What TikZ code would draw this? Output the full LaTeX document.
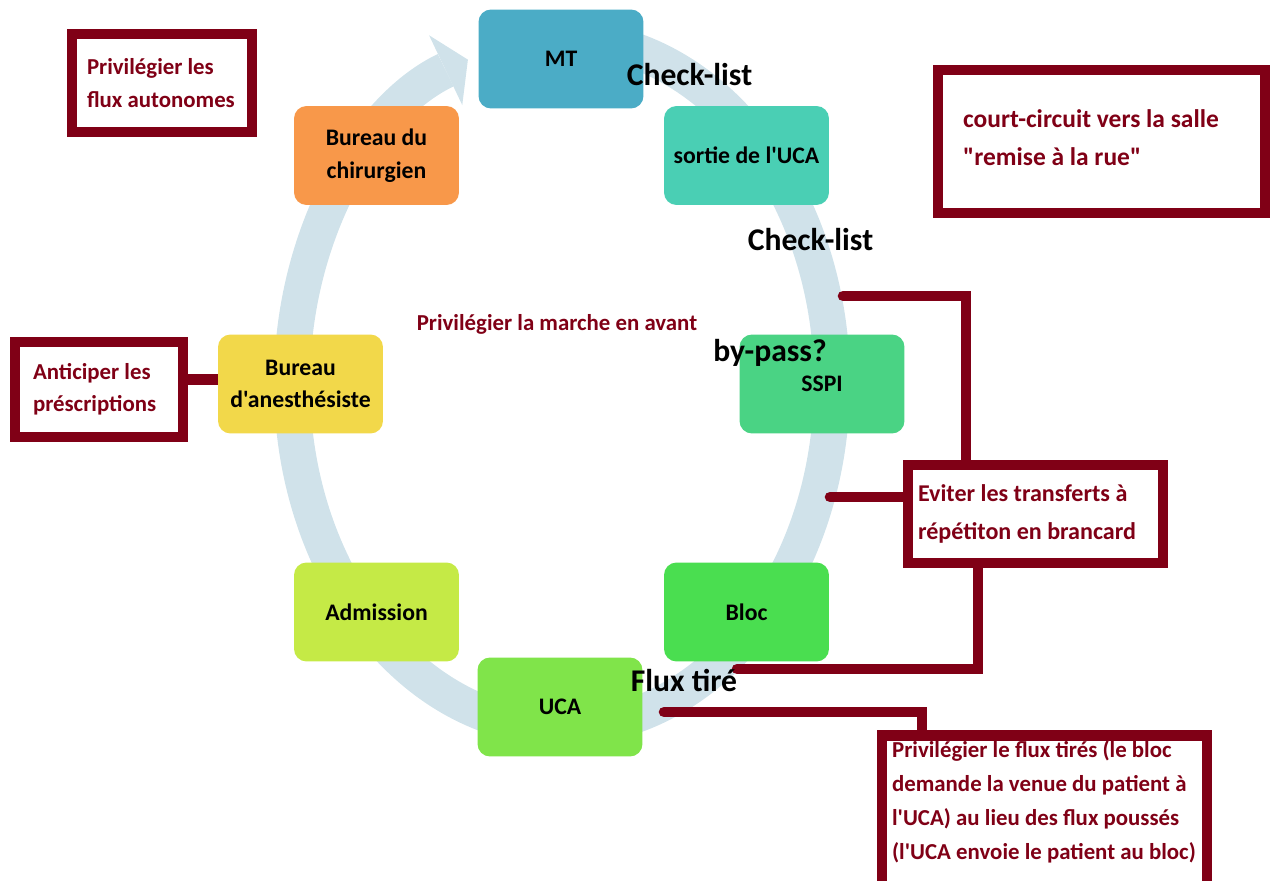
\documentclass[tikz,border=0pt]{standalone}
\usepackage{fontspec}
\newfontfamily\calib{Carlito}
\usetikzlibrary{arrows.meta}
\pgfdeclarelayer{back}
\pgfdeclarelayer{links}
\pgfsetlayers{back,links,main}
\definecolor{darkred}{RGB}{128,0,22}
\definecolor{ringblue}{RGB}{208,226,234}
\definecolor{cMT}{RGB}{75,172,198}
\definecolor{cSortie}{RGB}{74,207,180}
\definecolor{cSSPI}{RGB}{74,211,132}
\definecolor{cBloc}{RGB}{74,222,80}
\definecolor{cUCA}{RGB}{128,228,74}
\definecolor{cAdmis}{RGB}{197,234,70}
\definecolor{cAnest}{RGB}{242,216,74}
\definecolor{cChir}{RGB}{248,152,74}

\begin{document}
\begin{tikzpicture}[x=0.02cm,y=-0.02cm,
    stage/.style={rounded corners=0.25cm, minimum width=3.3cm, minimum height=1.98cm,
      align=center, font=\calib\bfseries\fontsize{13.5}{18.5}\selectfont},
    note/.style={draw=darkred, line width=6pt, fill=white, text=darkred, align=flush left,
      font=\calib\bfseries\fontsize{13}{18.5}\selectfont},
    notetext/.style={text=darkred, align=left, inner sep=0pt},
    link/.style={darkred, line width=6pt},
    big/.style={font=\calib\bfseries\fontsize{18}{20}\selectfont}]
  \useasboundingbox (0,0) rectangle (1274,881);
  % cycle arrow
  \coordinate (ctr) at (562,383);
  \begin{pgfonlayer}{back}
    \draw[ringblue, line width=20.5pt, -{Triangle[length=14pt,width=44pt,line width=0pt]}]
      ([shift={(275:270 and 345)}]ctr) arc[start angle=275, end angle=609.6, x radius=270, y radius=345];
  \end{pgfonlayer}
  % stages
  \node[stage, fill=cMT] (mt) at (561,59) {MT};
  \node[stage, fill=cSortie] (sortie) at (746.5,155.5) {sortie de l'UCA};
  \node[stage, fill=cSSPI] (sspi) at (822,384) {SSPI};
  \node[stage, fill=cBloc] (bloc) at (746.5,612) {Bloc};
  \node[stage, fill=cUCA] (uca) at (560,707) {UCA};
  \node[stage, fill=cAdmis] (admis) at (376.5,612) {Admission};
  \node[stage, fill=cAnest] (anest) at (300.5,384) {Bureau\\d'anesthésiste};
  \node[stage, fill=cChir] (chir) at (376.5,155.5) {Bureau du\\chirurgien};
  % remarks
  \node[note, text width=3.0cm, inner xsep=0.3cm, minimum height=1.96cm] (auto) at (162,83)
    {Privilégier les\\flux autonomes};
  \node[note, text width=2.64cm, inner xsep=0.36cm, minimum height=1.9cm] (anticip) at (99,389.5)
    {Anticiper les\\préscriptions};
  \node[note, minimum width=6.54cm, minimum height=2.86cm] (court) at (1101.5,141.5) {};
  \node[notetext, anchor=west, font=\calib\bfseries\fontsize{14.5}{22}\selectfont] (courttxt)
    at ([xshift=0.6cm,yshift=0.08cm]court.west) {court-circuit vers la salle\\"remise à la rue"};
  \node[note, text width=4.7cm, inner xsep=0.2cm, minimum height=1.96cm,
    font=\calib\bfseries\fontsize{13.7}{21.5}\selectfont] (eviter) at (1035.5,514)
    {Eviter les transferts à\\répétiton en brancard};
  \node[note, minimum width=6.5cm, minimum height=4cm, anchor=north] (tire) at (1044.5,730) {};
  \node[notetext, anchor=north west, font=\calib\bfseries\fontsize{13}{19.3}\selectfont] (tiretxt)
    at ([xshift=0.3cm,yshift=-0.2cm]tire.north west)
    {Privilégier le flux tirés (le bloc\\demande la venue du patient à\\l'UCA) au lieu des flux poussés\\(l'UCA envoie le patient au bloc)};
  % connectors
  \coordinate (bp) at (843,296);
  \coordinate (rr) at (830,497);
  \coordinate (ft) at (737,669);
  \coordinate (uc) at (664,712);
  \begin{pgfonlayer}{links}
    \draw[link, line cap=round] (bp) -| ([xshift=-1.39cm]eviter.north);
    \draw[link, line cap=round] (rr) -- (rr -| eviter.west);
    \draw[link, line cap=round] (ft) -| ([xshift=-1.15cm]eviter.south);
    \draw[link, line cap=round] (uc) -| ([xshift=-2.45cm]tire.north);
    \draw[link] ([yshift=0.2cm]anticip.east) -- ([yshift=0.2cm]anticip.east -| anest.west);
  \end{pgfonlayer}
  % labels
  \node[big] (ck1) at (689.5,75) {Check-list};
  \node[big] (ck2) at (810.5,240) {Check-list};
  \node[big] (byp) at (770,353) {by-pass?};
  \node[big] (flux) at (684,680) {Flux tiré};
  \node[text=darkred, font=\calib\bfseries\fontsize{13}{15}\selectfont] (marche) at (557,324)
    {Privilégier la marche en avant};
\end{tikzpicture}
\end{document}
